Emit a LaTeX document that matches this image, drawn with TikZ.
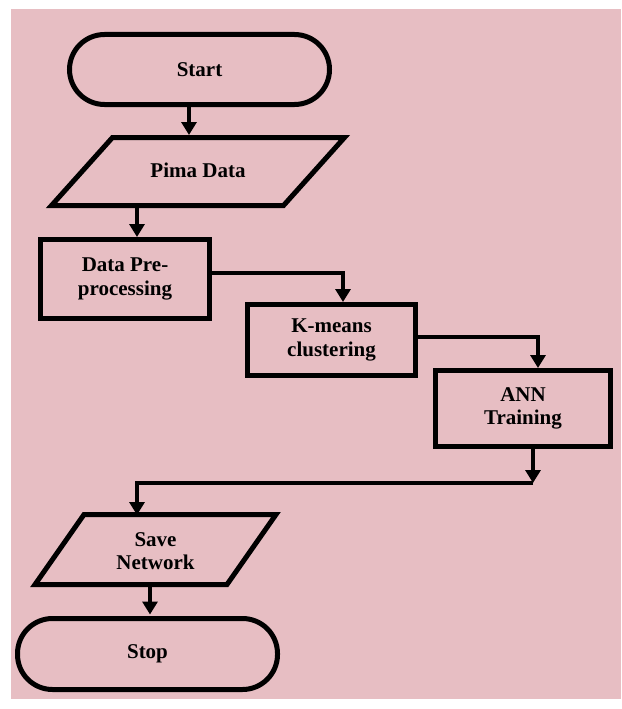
\documentclass[tikz,border=0pt]{standalone}
\usepackage{fontspec}
\setmainfont{Liberation Serif}
\usetikzlibrary{arrows.meta}
\definecolor{bgpink}{RGB}{231,190,195}
\newcommand\lblfont{\fontsize{21}{23.5}\selectfont\bfseries}
\begin{document}
\begin{tikzpicture}[x=1pt,y=-1pt,
  box/.style={draw=black, line width=5pt, align=center, font=\lblfont, inner sep=0pt},
  term/.style={box, rounded corners=35pt},
  pgram/.style={align=center, font=\lblfont, inner sep=0pt, outer sep=0pt},
  shapeline/.style={draw=black, line width=5pt, line join=miter},
  conn/.style={line width=4pt},
  arr/.style={line width=4pt, -{Triangle[width=15pt,length=13pt]}}]
% background
\fill[white] (0,0) rectangle (621,709);
\useasboundingbox (0,0) rectangle (621,709);
\fill[bgpink] (11,9) rectangle (621,699);

% shapes
\node[term, minimum width=260pt, minimum height=70pt] (start) at (199.5,69.5) {Start};

\draw[shapeline] (112.5,137.5) -- (344.5,137.5) -- (283.5,205.5) -- (51.5,205.5) -- cycle;
\node[pgram, minimum width=297pt, minimum height=73pt] (pima) at (198,171.5) {\raisebox{3pt}{Pima Data}};

\node[box, minimum width=169pt, minimum height=79pt] (dp) at (125,279) {Data Pre-\\processing};
\node[box, minimum width=168pt, minimum height=71pt] (km) at (331.5,340) {K-means\\clustering};
\node[box, minimum width=175pt, minimum height=76pt] (ann) at (523,408.5) {ANN\\Training};

\draw[shapeline] (84,514.5) -- (276,514.5) -- (227,584.5) -- (35,584.5) -- cycle;
\node[pgram, minimum width=244pt, minimum height=75pt] (sav) at (155.5,551) {Save\\Network};

\node[term, minimum width=260pt, minimum height=71pt] (stop) at (147.5,654) {Stop};

% connectors
\coordinate (j) at (533,483);
\draw[arr] ([xshift=-10.5pt]start.south) -- ([xshift=-10.5pt]start.south |- pima.north);
\draw[arr] ([xshift=-61pt]pima.south) -- ([xshift=-61pt]pima.south |- dp.north);
\draw[arr] ([yshift=6pt]dp.east) -| ([xshift=11.5pt]km.north);
\draw[arr] ([yshift=3pt]km.east) -| ([xshift=15pt]ann.north);
\draw[arr] ([xshift=10pt]ann.south) -- (j);
\draw[arr] (j) -| ([xshift=-18.5pt,yshift=-1.5pt]sav.north);
\draw[arr] ([xshift=-5.5pt,yshift=1.5pt]sav.south) -- ([xshift=-5.5pt,yshift=1.5pt]sav.south |- stop.north);
\end{tikzpicture}
\end{document}
